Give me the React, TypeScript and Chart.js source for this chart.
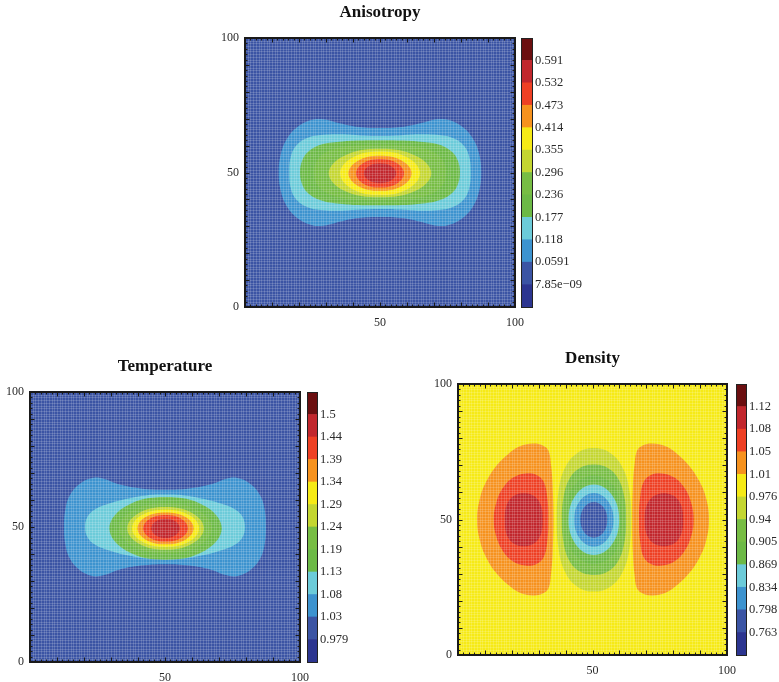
import React, { useEffect, useRef } from 'react';
import { Chart, LineController, registerables } from 'chart.js';

Chart.register(...registerables);

// line controller whose dataset is a closed, smoothed loop (contour outline)
class ContourController extends LineController {
  static id = 'contour';
  update(mode: any) {
    super.update(mode);
    const line: any = (this as any)._cachedMeta.dataset;
    if (line) {
      line._loop = true;
      line._fullLoop = true;
    }
  }
}
Chart.register(ContourController as any);

const FONT = '"Liberation Serif", "Times New Roman", Times, serif';

// ---------- data ----------
const bandColors = ['#2c3590', '#3b54a4', '#3d93cf', '#6ccbd9', '#6cb946', '#77bd44', '#c4d631', '#f6ea16', '#f6921e', '#ee4024', '#c1272d', '#6b0f10'];

const anisotropyLevels = ['7.85e\u221209', '0.0591', '0.118', '0.177', '0.236', '0.296', '0.355', '0.414', '0.473', '0.532', '0.591'];
const temperatureLevels = ['0.979', '1.03', '1.08', '1.13', '1.19', '1.24', '1.29', '1.34', '1.39', '1.44', '1.5'];
const densityLevels = ['0.763', '0.798', '0.834', '0.869', '0.905', '0.94', '0.976', '1.01', '1.05', '1.08', '1.12'];

const xTickValues = [50, 100];
const yTickValues = [0, 50, 100];

const domainSquare = [[0, 0], [100, 0], [100, 100], [0, 100]];

// Anisotropy contours
const aniso2 = [[12.5,50],[13.3,57],[15.5,62.5],[19.5,67],[24.5,69.5],[29,69.8],[35,68.3],[42,66.9],[50,66.5],[58,66.9],[65,68.3],[71,69.8],[75.5,69.5],[80.5,67],[84.5,62.5],[86.7,57],[87.5,50],[86.7,43],[84.5,37.5],[80.5,33],[75.5,30.5],[71,30.2],[65,31.7],[58,33.1],[50,33.5],[42,33.1],[35,31.7],[29,30.2],[24.5,30.5],[19.5,33],[15.5,37.5],[13.3,43]];
const aniso3 = [[16.4,50],[17,56],[19,60],[23,62.8],[29,64],[36,64.2],[43,63.8],[50,63.6],[57,63.8],[64,64.2],[71,64],[77,62.8],[81,60],[83,56],[83.6,50],[83,44],[81,40],[77,37.2],[71,36],[64,35.8],[57,36.2],[50,36.4],[43,36.2],[36,35.8],[29,36],[23,37.2],[19,40],[17,44]];
const aniso4 = [[20.4,50],[21.2,54.5],[23.5,57.8],[28,60.3],[35,61.4],[42,61.9],[50,62],[58,61.9],[65,61.4],[72,60.3],[76.5,57.8],[78.8,54.5],[79.6,50],[78.8,45.5],[76.5,42.2],[72,39.7],[65,38.4],[58,37.9],[50,37.8],[42,37.9],[35,38.4],[28,39.7],[23.5,42.2],[21.2,45.5]];
const aniso5 = [[25.5,50],[27.5,55.5],[33,58.7],[41,60],[50,60.3],[59,60],[67,58.7],[72.5,55.5],[74.5,50],[72.5,44.5],[67,41.3],[59,40],[50,39.7],[41,40],[33,41.3],[27.5,44.5]];
const aniso6 = [[31,49.7],[36.6,56.1],[50,58.8],[63.4,56.1],[69,49.7],[63.4,43.3],[50,40.8],[36.6,43.3]];
const aniso7 = [[35.2,49.7],[39.5,55.4],[50,57.8],[60.5,55.4],[64.8,49.7],[60.5,44],[50,41.6],[39.5,44]];
const aniso8 = [[38.3,49.7],[41.7,54.3],[50,56.2],[58.3,54.3],[61.7,49.7],[58.3,45.1],[50,43.2],[41.7,45.1]];
const aniso9 = [[41.1,49.7],[43.7,53.45],[50,55],[56.3,53.45],[58.9,49.7],[56.3,45.95],[50,44.4],[43.7,45.95]];
const aniso10 = [[44,49.7],[45.76,52.3],[50,53.4],[54.24,52.3],[56,49.7],[54.24,47.1],[50,46],[45.76,47.1]];

// Temperature contours
const temp2 = [[12.6,50],[13.1,56.5],[14.8,61.8],[18.5,66],[23.5,68.2],[27.5,67.8],[33,65.8],[41,64.3],[50,63.8],[59,64.3],[67,65.8],[72.5,67.8],[76.5,68.2],[81.5,66],[85.2,61.8],[86.9,56.5],[87.4,50],[86.9,43.5],[85.2,38.2],[81.5,34],[76.5,31.8],[72.5,32.2],[67,34.2],[59,35.7],[50,36.2],[41,35.7],[33,34.2],[27.5,32.2],[23.5,31.8],[18.5,34],[14.8,38.2],[13.1,43.5]];
const temp3 = [[20.4,50],[21.3,53.8],[24,56.5],[29,58.6],[36,60.5],[43,61.7],[50,62],[57,61.7],[64,60.5],[71,58.6],[76,56.5],[78.7,53.8],[79.6,50],[78.7,46.2],[76,43.5],[71,41.4],[64,39.5],[57,38.3],[50,38],[43,38.3],[36,39.5],[29,41.4],[24,43.5],[21.3,46.2]];
const temp4 = [[29.4,49.5],[35.5,57.7],[50.2,61.1],[64.9,57.7],[71,49.5],[64.9,41.3],[50.2,37.9],[35.5,41.3]];
const temp5 = [[33,49.5],[38,56],[50.2,58.7],[62.4,56],[67.4,49.5],[62.4,43],[50.2,40.3],[38,43]];
const temp6 = [[36,49.5],[40.2,55.1],[50.2,57.4],[60.2,55.1],[64.4,49.5],[60.2,43.9],[50.2,41.6],[40.2,43.9]];
const temp7 = [[37.8,49.5],[41.4,54.4],[50.2,56.4],[59,54.4],[62.6,49.5],[59,44.6],[50.2,42.6],[41.4,44.6]];
const temp8 = [[39.8,49.5],[42.85,53.7],[50.2,55.4],[57.55,53.7],[60.6,49.5],[57.55,45.3],[50.2,43.6],[42.85,45.3]];
const temp9 = [[41.9,49.5],[44.3,53],[50.2,54.4],[56.1,53],[58.5,49.5],[56.1,46],[50.2,44.6],[44.3,46]];
const temp10 = [[44.9,49.5],[46.45,52.05],[50.2,53.1],[53.95,52.05],[55.5,49.5],[53.95,46.95],[50.2,45.9],[46.45,46.95]];

// Density contours
const densLeft8 = [[7.1,50],[8.2,58],[10.5,64],[14,69.5],[18.5,74],[23,77],[28,78],[31.5,77.3],[33.6,75.5],[34.6,70],[35.2,62],[35.5,50],[35.2,38],[34.6,30],[33.6,24.5],[31.5,22.7],[28,22],[23,23],[18.5,26],[14,30.5],[10.5,36],[8.2,42]];
const densRight8 = [[93.3,50],[92.2,58],[89.8,64],[86.2,69.5],[81.7,74],[77.2,77],[72.2,78],[68.7,77.3],[66.6,75.5],[65.6,70],[65,62],[64.8,50],[65,38],[65.6,30],[66.6,24.5],[68.7,22.7],[72.2,22],[77.2,23],[81.7,26],[86.2,30.5],[89.8,36],[92.2,42]];
const densLeft9 = [[13.3,50],[14.3,56.5],[16.8,61.8],[20.5,65.5],[25,67],[29,66.5],[31.8,64],[33.2,58],[33.6,50],[33.2,42],[31.8,36],[29,33.5],[25,33],[20.5,34.5],[16.8,38.2],[14.3,43.5]];
const densRight9 = [[87.6,50],[86.6,56.5],[84.1,61.8],[80.4,65.5],[75.9,67],[71.9,66.5],[69.1,64],[67.7,58],[67.3,50],[67.7,42],[69.1,36],[71.9,33.5],[75.9,33],[80.4,34.5],[84.1,38.2],[86.6,43.5]];
const densLeft10 = [[17.4,49.9],[19.15,57.3],[24.45,59.7],[29.75,57.3],[31.5,49.9],[29.75,42.5],[24.45,40.1],[19.15,42.5]];
const densRight10 = [[69.4,49.9],[71.2,57.2],[76.55,59.7],[81.9,57.2],[83.7,49.9],[81.9,42.6],[76.55,40.1],[71.2,42.6]];
const densCenter6 = [[36.7,49.9],[37.3,60],[39.5,68.5],[44,74.3],[50.5,76.4],[57,74.3],[61.5,68.5],[63.8,60],[64.4,49.9],[63.8,39.8],[61.5,31.3],[57,25.5],[50.5,23.4],[44,25.5],[39.5,31.3],[37.3,39.8]];
const densCenter5 = [[38.6,49.9],[39.2,58],[41.3,64.8],[45.3,69],[50.5,70.3],[55.7,69],[59.7,64.8],[61.9,58],[62.5,49.9],[61.9,41.8],[59.7,35],[55.7,30.8],[50.5,29.5],[45.3,30.8],[41.3,35],[39.2,41.8]];
const densCenter4 = [[40.2,49.9],[41,57.5],[43.6,63],[50.5,66.3],[57.4,63],[60,57.5],[60.8,49.9],[60,42.3],[57.4,36.8],[50.5,33.5],[43.6,36.8],[41,42.3]];
const densCenter3 = [[41.1,49.9],[43.85,59.1],[50.5,62.9],[57.15,59.1],[59.9,49.9],[57.15,40.7],[50.5,36.9],[43.85,40.7]];
const densCenter2 = [[43.2,49.9],[45.34,56.9],[50.5,59.8],[55.66,56.9],[57.8,49.9],[55.66,42.9],[50.5,40],[45.34,42.9]];
const densCenter1 = [[45.5,49.9],[46.96,54.57],[50.5,56.5],[54.04,54.57],[55.5,49.9],[54.04,45.23],[50.5,43.3],[46.96,45.23]];

const anisotropyContours = [
  { band: 1, pts: domainSquare, smooth: false },
  { band: 2, pts: aniso2 }, { band: 3, pts: aniso3 }, { band: 4, pts: aniso4 }, { band: 5, pts: aniso5 },
  { band: 6, pts: aniso6 }, { band: 7, pts: aniso7 }, { band: 8, pts: aniso8 }, { band: 9, pts: aniso9 }, { band: 10, pts: aniso10 },
];
const temperatureContours = [
  { band: 1, pts: domainSquare, smooth: false },
  { band: 2, pts: temp2 }, { band: 3, pts: temp3 }, { band: 4, pts: temp4 }, { band: 5, pts: temp5 },
  { band: 6, pts: temp6 }, { band: 7, pts: temp7 }, { band: 8, pts: temp8 }, { band: 9, pts: temp9 }, { band: 10, pts: temp10 },
];
const densityContours = [
  { band: 7, pts: domainSquare, smooth: false },
  { band: 8, pts: densLeft8 }, { band: 8, pts: densRight8 },
  { band: 9, pts: densLeft9 }, { band: 9, pts: densRight9 },
  { band: 10, pts: densLeft10 }, { band: 10, pts: densRight10 },
  { band: 6, pts: densCenter6 }, { band: 5, pts: densCenter5 }, { band: 4, pts: densCenter4 },
  { band: 3, pts: densCenter3 }, { band: 2, pts: densCenter2 }, { band: 1, pts: densCenter1 },
];

// ---------- layout ----------
const panels = [
  { title: 'Anisotropy', contours: anisotropyContours, levels: anisotropyLevels, L: 245, R: 515, T: 38, B: 307, cbL: 521, cbW: 12 },
  { title: 'Temperature', contours: temperatureContours, levels: temperatureLevels, L: 30, R: 300, T: 392, B: 662, cbL: 307, cbW: 11 },
  { title: 'Density', contours: densityContours, levels: densityLevels, L: 458, R: 727, T: 384, B: 655, cbL: 736, cbW: 11 },
];

const Y_AXIS_W = 40;
const X_AXIS_H = 26;
const TITLE_H = 36;
const RIGHT_PAD = 14;
const CB_AXIS_W = 60;

const zeroPad = (s: any) => {
  s.paddingLeft = 0; s.paddingRight = 0; s.paddingTop = 0; s.paddingBottom = 0;
};

const meshPlugin = {
  id: 'mesh',
  afterDatasetsDraw(chart: any) {
    const { ctx, chartArea: a, scales } = chart;
    ctx.save();
    ctx.beginPath();
    ctx.rect(a.left, a.top, a.right - a.left, a.bottom - a.top);
    ctx.clip();
    ctx.strokeStyle = 'rgba(255,255,255,0.16)';
    ctx.lineWidth = 1;
    ctx.beginPath();
    for (let v = 0; v <= 100; v += 1) {
      const px = Math.round(scales.x.getPixelForValue(v)) + 0.5;
      const py = Math.round(scales.y.getPixelForValue(v)) + 0.5;
      ctx.moveTo(px, a.top); ctx.lineTo(px, a.bottom);
      ctx.moveTo(a.left, py); ctx.lineTo(a.right, py);
    }
    ctx.stroke();
    ctx.restore();
  },
};

const framePlugin = {
  id: 'frame',
  afterDraw(chart: any) {
    const { ctx, chartArea: a, scales } = chart;
    ctx.save();
    ctx.strokeStyle = '#1a1a1a';
    ctx.lineWidth = 1;
    ctx.beginPath();
    for (let v = 0; v <= 100; v += 2) {
      const len = v % 10 === 0 ? 4.5 : 2.5;
      const px = Math.round(scales.x.getPixelForValue(v)) + 0.5;
      const py = Math.round(scales.y.getPixelForValue(v)) + 0.5;
      ctx.moveTo(px, a.bottom); ctx.lineTo(px, a.bottom - len);
      ctx.moveTo(px, a.top); ctx.lineTo(px, a.top + len);
      ctx.moveTo(a.left, py); ctx.lineTo(a.left + len, py);
      ctx.moveTo(a.right, py); ctx.lineTo(a.right - len, py);
    }
    ctx.stroke();
    ctx.lineWidth = 2;
    ctx.strokeRect(a.left, a.top, a.right - a.left, a.bottom - a.top);
    ctx.restore();
  },
};

const barFramePlugin = {
  id: 'barFrame',
  afterDraw(chart: any) {
    const { ctx, chartArea: a } = chart;
    ctx.save();
    ctx.strokeStyle = '#222';
    ctx.lineWidth = 1;
    ctx.strokeRect(Math.round(a.left) + 0.5, Math.round(a.top) + 0.5, Math.round(a.right - a.left) - 1, Math.round(a.bottom - a.top));
    ctx.restore();
  },
};

function Panel({ p }: { p: any }) {
  const plotRef = useRef<HTMLCanvasElement>(null);
  const barRef = useRef<HTMLCanvasElement>(null);

  const plotW = Y_AXIS_W + (p.R - p.L) + RIGHT_PAD;
  const plotH = TITLE_H + (p.B - p.T) + X_AXIS_H;
  const barW = p.cbW + CB_AXIS_W;
  const barH = (p.B - p.T) + 20;

  useEffect(() => {
    const n = p.contours.length;
    const plot = new Chart(plotRef.current as any, {
      type: 'contour' as any,
      data: {
        datasets: p.contours.map((c: any, i: number) => ({
          data: c.pts.map(([x, y]: number[]) => ({ x, y })),
          backgroundColor: bandColors[c.band],
          borderColor: bandColors[c.band],
          borderWidth: 0,
          pointRadius: 0,
          pointHoverRadius: 0,
          fill: 'shape',
          tension: c.smooth === false ? 0 : 0.4,
          order: n - i,
        })),
      },
      options: {
        responsive: false,
        animation: false,
        events: [],
        layout: { padding: { left: 0, right: RIGHT_PAD, top: 0, bottom: 0 } },
        plugins: {
          legend: { display: false },
          tooltip: { enabled: false },
          title: {
            display: true,
            text: p.title,
            fullSize: false,
            color: '#111',
            font: { family: FONT, size: 17, weight: 'bold', lineHeight: 1.2 },
            padding: { top: 0, bottom: TITLE_H - 20.4 },
          },
        },
        scales: {
          x: {
            type: 'linear', min: 0, max: 100,
            afterBuildTicks: (s: any) => { s.ticks = xTickValues.map((v) => ({ value: v })); },
            afterFit: (s: any) => { s.height = X_AXIS_H; zeroPad(s); },
            grid: { display: false, drawTicks: false },
            border: { display: false },
            ticks: { padding: 9, color: '#2a2a2a', font: { family: FONT, size: 12 }, maxRotation: 0, autoSkip: false },
          },
          y: {
            type: 'linear', min: 0, max: 100,
            afterBuildTicks: (s: any) => { s.ticks = yTickValues.map((v) => ({ value: v })); },
            afterFit: (s: any) => { s.width = Y_AXIS_W; zeroPad(s); },
            grid: { display: false, drawTicks: false },
            border: { display: false },
            ticks: { padding: 6, color: '#2a2a2a', font: { family: FONT, size: 12 }, autoSkip: false },
          },
        },
      } as any,
      plugins: [meshPlugin, framePlugin],
    });

    const bar = new Chart(barRef.current as any, {
      type: 'bar',
      data: {
        labels: [''],
        datasets: bandColors.map((col, i) => ({
          data: [[i, i + 1]] as any,
          backgroundColor: col,
          borderWidth: 0,
          barPercentage: 1,
          categoryPercentage: 1,
          grouped: false,
        })),
      },
      options: {
        responsive: false,
        animation: false,
        events: [],
        layout: { padding: { left: 0, right: 0, top: 10, bottom: 10 } },
        plugins: { legend: { display: false }, tooltip: { enabled: false } },
        scales: {
          x: { display: false },
          y: {
            position: 'right', min: 0, max: bandColors.length,
            afterBuildTicks: (s: any) => { s.ticks = p.levels.map((_: string, i: number) => ({ value: i + 1 })); },
            afterFit: (s: any) => { s.width = CB_AXIS_W; zeroPad(s); },
            grid: { display: false, drawTicks: false },
            border: { display: false },
            ticks: {
              padding: 2, color: '#2a2a2a', font: { family: FONT, size: 12.5 }, autoSkip: false,
              callback: (_v: any, idx: number) => p.levels[idx],
            },
          },
        },
      } as any,
      plugins: [barFramePlugin],
    });

    return () => { plot.destroy(); bar.destroy(); };
  }, []);

  return (
    <>
      <canvas
        ref={plotRef}
        width={plotW}
        height={plotH}
        style={{ position: 'absolute', left: p.L - Y_AXIS_W, top: p.T - TITLE_H, width: plotW, height: plotH }}
      />
      <canvas
        ref={barRef}
        width={barW}
        height={barH}
        style={{ position: 'absolute', left: p.cbL, top: p.T - 10, width: barW, height: barH }}
      />
    </>
  );
}

export default function App() {
  return (
    <div style={{ position: 'absolute', left: 0, top: 0, width: 779, height: 682, overflow: 'hidden', background: '#fff' }}>
      {panels.map((p) => (
        <Panel key={p.title} p={p} />
      ))}
    </div>
  );
}
